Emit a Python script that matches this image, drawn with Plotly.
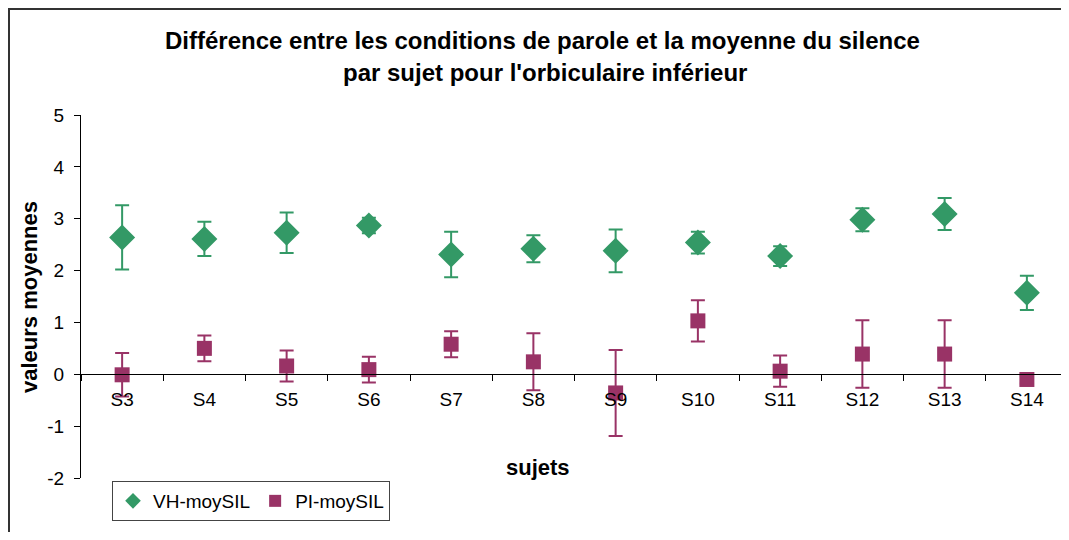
import plotly.graph_objects as go

subjects = ["S3", "S4", "S5", "S6", "S7", "S8", "S9", "S10", "S11", "S12", "S13", "S14"]
vh_values = [2.64, 2.61, 2.73, 2.87, 2.31, 2.42, 2.38, 2.54, 2.28, 2.98, 3.09, 1.57]
vh_errors = [0.62, 0.33, 0.39, 0.15, 0.44, 0.26, 0.41, 0.21, 0.19, 0.22, 0.31, 0.33]
pi_values = [-0.01, 0.50, 0.16, 0.09, 0.58, 0.24, -0.36, 1.03, 0.06, 0.39, 0.39, -0.10]
pi_errors = [0.42, 0.25, 0.30, 0.25, 0.25, 0.55, 0.83, 0.40, 0.30, 0.65, 0.65, 0.08]
y_tick_values = [-2, -1, 0, 1, 2, 3, 4, 5]
y_tick_labels = ["-2", "-1", "0", "1", "2", "3", "4", "5"]

GREEN = "#339966"
PURPLE = "#993366"
FONT = "Liberation Sans, Arial, sans-serif"

fig = go.Figure()
fig.add_trace(go.Scatter(
    x=subjects, y=vh_values, mode="markers", name="VH-moySIL",
    marker=dict(symbol="diamond", size=20, color=GREEN),
    error_y=dict(type="data", array=vh_errors, color=GREEN, thickness=2, width=7),
))
fig.add_trace(go.Scatter(
    x=subjects, y=pi_values, mode="markers", name="PI-moySIL",
    marker=dict(symbol="square", size=15, color=PURPLE),
    error_y=dict(type="data", array=pi_errors, color=PURPLE, thickness=2, width=7),
))

# page body has an 8px margin: screen coordinate = figure coordinate + 8
OFF = 8
W, H = 1061, 524
L, T = 81 - OFF, 115 - OFF
R = W - (1068 - OFF)
B = H - (478 - OFF)
pw = W - L - R
ph = H - T - B


def px(x):
    return (x - OFF - L) / pw


def py(y):
    return (H - B - (y - OFF)) / ph


fig.update_layout(
    width=W, height=H,
    margin=dict(l=L, r=R, t=T, b=B),
    paper_bgcolor="white", plot_bgcolor="white",
    font=dict(family=FONT, color="black", size=19),
    showlegend=True,
    legend=dict(
        orientation="h", x=px(112), xanchor="left",
        y=py(481), yanchor="top",
        bordercolor="#444", borderwidth=1, bgcolor="white",
        font=dict(size=19, family=FONT), itemsizing="constant",
        tracegroupgap=0, itemwidth=30,
    ),
    xaxis=dict(
        type="category", anchor="free", position=2 / 7,
        showline=True, linecolor="black", linewidth=1,
        ticks="outside", tickson="boundaries", ticklen=6, tickcolor="black",
        showgrid=False, zeroline=False, ticklabelstandoff=8,
        tickfont=dict(size=19), range=[-0.5, 11.5],
    ),
    yaxis=dict(
        range=[-2, 5], tickmode="array", tickvals=y_tick_values, ticktext=y_tick_labels,
        showline=True, linecolor="black", linewidth=1,
        ticks="outside", ticklen=6, tickcolor="black", showgrid=False,
        zeroline=False, tickfont=dict(size=19), ticklabelstandoff=6,
    ),
    annotations=[
        dict(text="<b>Différence entre les conditions de parole et la moyenne du silence</b>",
             xref="paper", yref="paper", x=px(542), y=py(41),
             xanchor="center", yanchor="middle", showarrow=False,
             font=dict(size=24, family=FONT)),
        dict(text="<b>par sujet pour l'orbiculaire inférieur</b>",
             xref="paper", yref="paper", x=px(545), y=py(73),
             xanchor="center", yanchor="middle", showarrow=False,
             font=dict(size=24, family=FONT)),
        dict(text="<b>sujets</b>",
             xref="paper", yref="paper", x=px(538), y=py(467),
             xanchor="center", yanchor="middle", showarrow=False,
             font=dict(size=22, family=FONT)),
        dict(text="<b>valeurs moyennes</b>", textangle=-90,
             xref="paper", yref="paper", x=px(29), y=py(297),
             xanchor="center", yanchor="middle", showarrow=False,
             font=dict(size=22, family=FONT)),
    ],
    shapes=[
        dict(type="line", xref="paper", yref="paper",
             x0=px(9), x1=px(9), y0=py(OFF + H), y1=py(8),
             line=dict(color="#333333", width=2), layer="below"),
        dict(type="line", xref="paper", yref="paper",
             x0=px(8), x1=px(OFF + W), y0=py(9), y1=py(9),
             line=dict(color="#333333", width=2), layer="below"),
    ],
)

fig.write_html("out.html")
